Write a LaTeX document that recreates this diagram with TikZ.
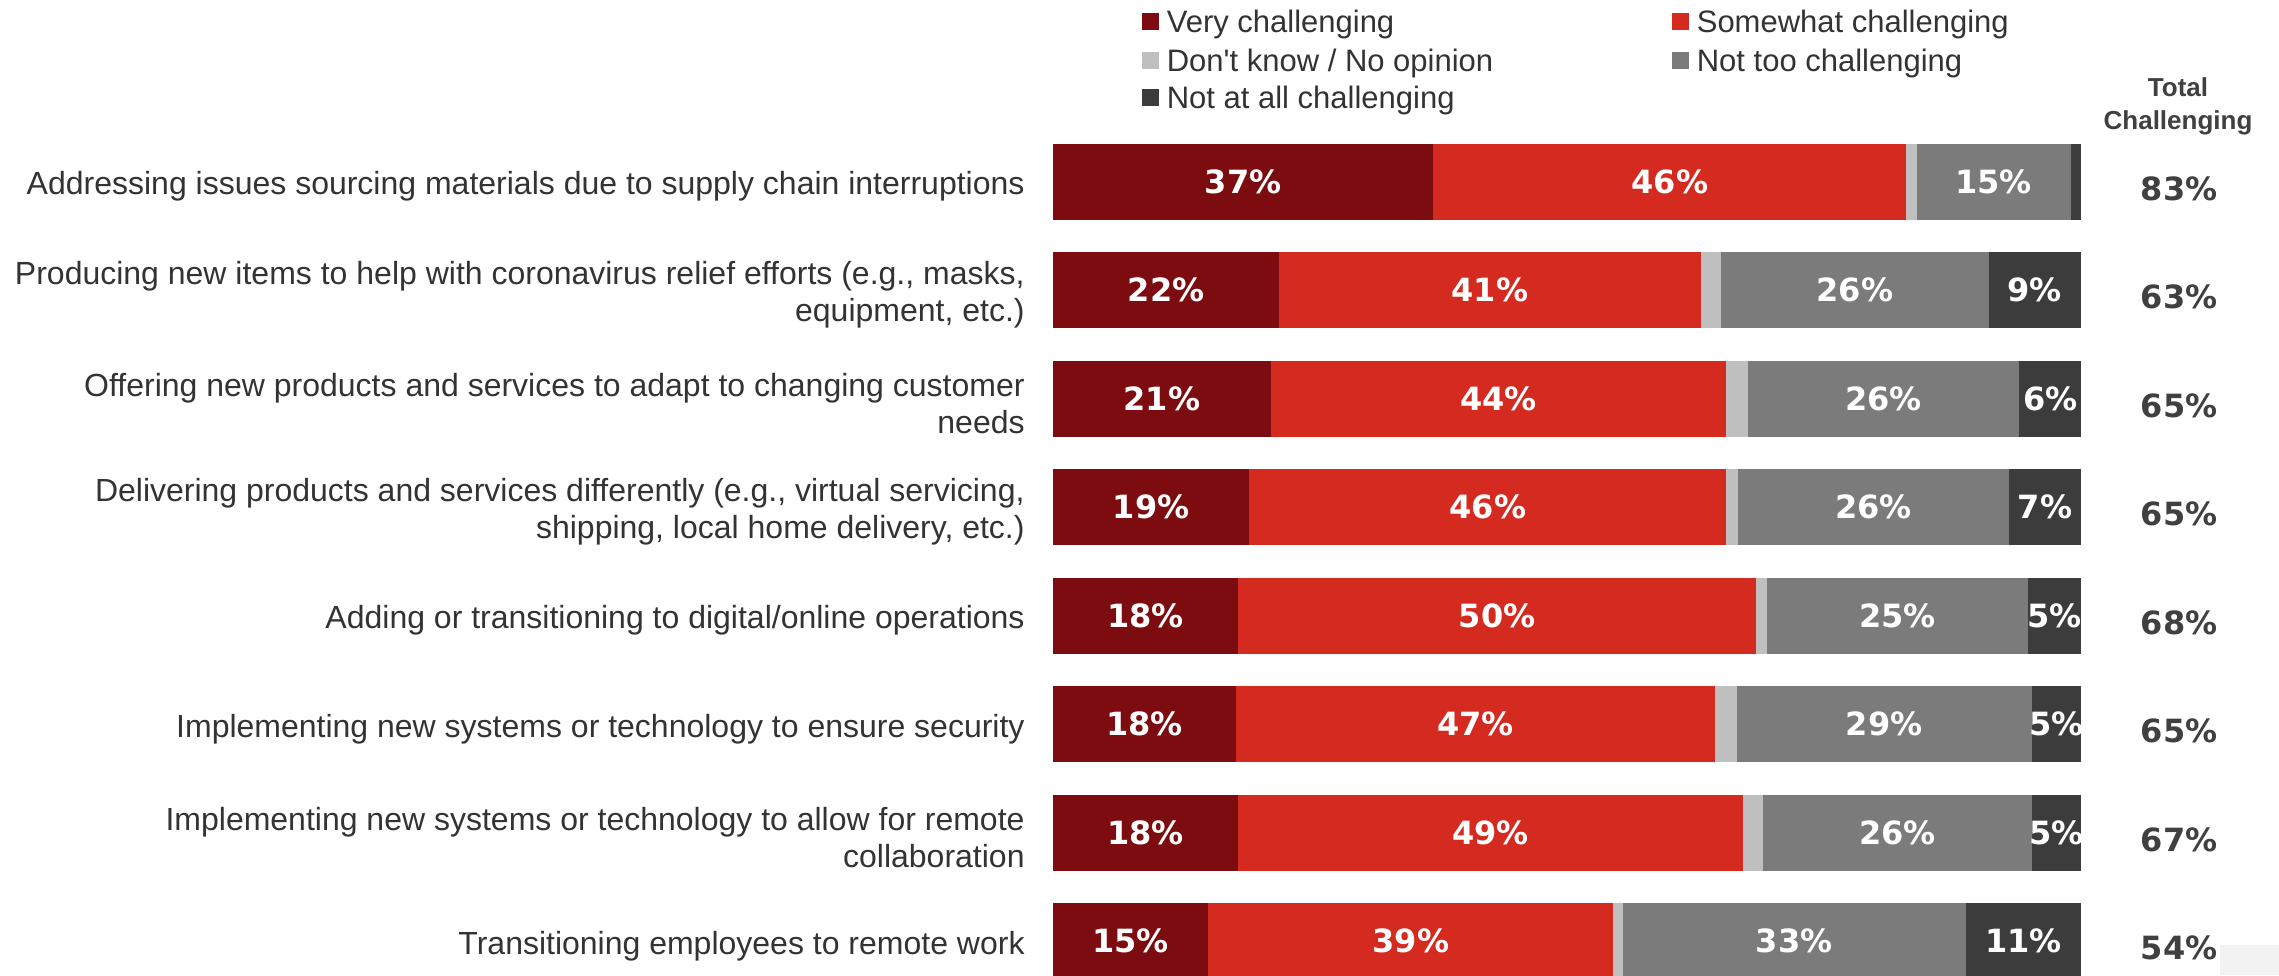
\documentclass[tikz,border=0pt]{standalone}
\usepackage{fontspec}
\setmainfont{Liberation Sans}
\newfontfamily\pctfont{DejaVu Sans}
\usetikzlibrary{positioning}
\definecolor{c1}{HTML}{7D0C10}
\definecolor{c2}{HTML}{D42A1F}
\definecolor{c3}{HTML}{BFBFBF}
\definecolor{c4}{HTML}{7B7B7B}
\definecolor{c5}{HTML}{3C3C3C}
\definecolor{labgray}{HTML}{333333}
\definecolor{totgray}{HTML}{404040}
\definecolor{boxgray}{HTML}{F2F2F2}
\begin{document}
\begin{tikzpicture}[x=0.5pt,y=-0.5pt,seg/.style={rectangle,inner sep=0pt,outer sep=0pt,minimum height=38pt},pct/.style={text=white,inner sep=0pt,font=\pctfont\bfseries\fontsize{16}{18}\selectfont},row/.style={anchor=east,align=right,text=labgray,inner sep=0pt,font=\fontsize{16}{18.3}\selectfont},total/.style={text=totgray,inner sep=0pt,font=\pctfont\bfseries\fontsize{16}{18}\selectfont},key/.style={rectangle,inner sep=0pt,minimum size=8.5pt},keytxt/.style={text=labgray,inner sep=0pt,yshift=-1.5pt,font=\fontsize{15.5}{18}\selectfont}]
\useasboundingbox (0,0) rectangle (2279,975);
\fill[white] (0,0) rectangle (2279,975);
\foreach \k/\x/\y/\lbl in {1/1150.5/21.7/{Very challenging},2/1680.5/21.7/{Somewhat challenging},3/1150.5/60.8/{Don\textquotesingle t know / No opinion},4/1680.5/60.8/{Not too challenging},5/1150.5/97/{Not at all challenging}}{\node[key,fill=c\k] (k\k) at (\x,\y) {}; \node[keytxt,right=3.5pt of k\k] (kt\k) {\lbl};};
\node[text=totgray,align=center,font=\bfseries\fontsize{13}{16.5}\selectfont] (head) at (2178,106) {Total\\Challenging};
\fill[boxgray] (2220,945) rectangle (2279,975);
\foreach \lbl/\vals/\tc [count=\r,evaluate=\r as \y using 181.5+108.5*(\r-1)] in {
{Addressing issues sourcing materials due to supply chain interruptions}/{37,46,1,15,1}/83,
{Producing new items to help with coronavirus relief efforts (e.g., masks,\\ equipment, etc.)}/{22,41,2,26,9}/63,
{Offering new products and services to adapt to changing customer\\ needs}/{21.2,44.3,2.1,26.4,6}/65,
{Delivering products and services differently (e.g., virtual servicing,\\ shipping, local home delivery, etc.)}/{19.1,46.4,1.1,26.4,7}/65,
{Adding or transitioning to digital/online operations}/{18,50.4,1.1,25.3,5.2}/68,
{Implementing new systems or technology to ensure security}/{17.8,46.6,2.1,28.7,4.8}/65,
{Implementing new systems or technology to allow for remote\\ collaboration}/{18,49.1,2,26.1,4.8}/67,
{Transitioning employees to remote work}/{15.1,39.4,0.9,33.4,11.2}/54}{
\coordinate (b\r-0) at (1053,\y);
\foreach \v [count=\k,evaluate=\k as \j using int(\k-1)] in \vals {\pgfmathtruncatemacro\n{round(\v)}
\node[seg,fill=c\k,minimum width=\v*5.14pt,right=0pt of b\r-\j] (b\r-\k) {};
\ifnum\n>2 \node[pct] at (b\r-\k) {\n\%};\fi};
\node[row] (l\r) at (1025,\y+5) {\lbl};
\node[total] (t\r) at (2179,\y+7) {\tc\%};};
\end{tikzpicture}
\end{document}
